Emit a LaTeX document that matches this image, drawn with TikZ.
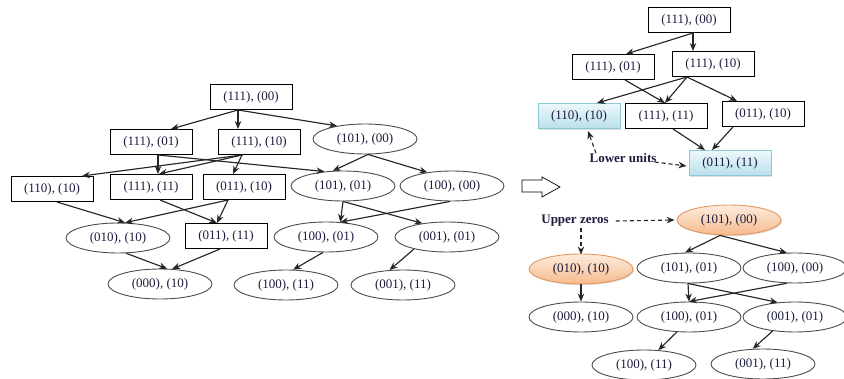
\documentclass[tikz,border=0pt]{standalone}
\usepackage{fontspec}
\setmainfont{Liberation Serif}
\usetikzlibrary{shapes.geometric,arrows.meta,shadows}
\definecolor{txt}{RGB}{28,28,62}
\definecolor{blueT}{RGB}{236,248,251}
\definecolor{blueB}{RGB}{186,224,234}
\definecolor{blueD}{RGB}{140,200,218}
\definecolor{orT}{RGB}{253,236,222}
\definecolor{orB}{RGB}{246,186,140}
\definecolor{orD}{RGB}{228,150,95}
\tikzset{
  lbl/.style={font=\fontsize{13}{15}\selectfont, text=txt},
  bx/.style={lbl, draw=black, line width=1pt, rectangle, minimum width=82pt, minimum height=25pt, inner sep=0pt},
  el/.style={lbl, draw=black!70, line width=0.9pt, ellipse, minimum width=104pt, minimum height=30pt, inner sep=0pt},
  bluebx/.style={bx, draw=blueD, top color=blueT, bottom color=blueB, drop shadow={opacity=0.25, shadow xshift=1.2pt, shadow yshift=-1.2pt}},
  orel/.style={el, draw=orD, top color=orT, bottom color=orB, drop shadow={opacity=0.25, shadow xshift=1.2pt, shadow yshift=-1.2pt}},
  note/.style={font=\bfseries\fontsize{13}{15}\selectfont, text=txt, inner sep=1pt},
  ed/.style={-{Stealth[length=8pt,width=6.5pt]}, line width=1.15pt, black!85},
  dd/.style={-{Stealth[length=8pt,width=6.5pt]}, line width=1.1pt, black!85, dash pattern=on 4pt off 3pt},
}
\begin{document}
\begin{tikzpicture}[x=1pt,y=-1pt]
\useasboundingbox (0,0) rectangle (844,379);
% ---------- left graph ----------
\node[bx] (a00) at (251,97) {(111), (00)};
\node[bx] (a01) at (151,142) {(111), (01)};
\node[bx] (a10) at (259,142) {(111), (10)};
\node[el] (b00) at (365,139) {(101), (00)};
\node[bx] (c10) at (52,189) {(110), (10)};
\node[bx] (a11) at (151,187) {(111), (11)};
\node[bx] (d10) at (244,187) {(011), (10)};
\node[el] (b01) at (343,186) {(101), (01)};
\node[el] (e00) at (452,186) {(100), (00)};
\node[el] (f10) at (118,238) {(010), (10)};
\node[bx] (d11) at (226,236) {(011), (11)};
\node[el] (e01) at (326,237) {(100), (01)};
\node[el] (g01) at (447,237) {(001), (01)};
\node[el] (h10) at (160,284) {(000), (10)};
\node[el] (e11) at (286,285) {(100), (11)};
\node[el] (g11) at (403,285) {(001), (11)};

\draw[ed] ([xshift=-13pt]a00.south) -- ([xshift=20pt]a01.north);
\draw[ed] ([xshift=-13pt]a00.south) -- ([xshift=-21pt]a10.north);
\draw[ed] ([xshift=-13pt]a00.south) -- (b00.155);
\draw[ed] ([xshift=7pt]a01.south) -- ([xshift=7pt]a11.north);
\draw[ed] ([xshift=7pt]a01.south) -- (b01.142);
\draw[ed] ([xshift=-17pt]a10.south) -- ([xshift=30pt]c10.north);
\draw[ed] ([xshift=-17pt]a10.south) -- ([xshift=8pt]a11.north);
\draw[ed] ([xshift=-17pt]a10.south) -- ([xshift=-11pt]d10.north);
\draw[ed] ([xshift=3pt]b00.south) -- (b01.124);
\draw[ed] ([xshift=3pt]b00.south) -- (e00.151);
\draw[ed] ([xshift=5pt]c10.south) -- (f10.65);
\draw[ed] ([xshift=9pt]a11.south) -- ([xshift=-9pt]d11.north);
\draw[ed] ([xshift=-16pt]d10.south) -- (f10.65);
\draw[ed] ([xshift=-16pt]d10.south) -- ([xshift=-9pt]d11.north);
\draw[ed] (b01.south) -- (e01.46);
\draw[ed] (b01.south) -- (g01.151);
\draw[ed] ([xshift=-2pt]e00.south) -- (e01.46);
\draw[ed] (f10.-62) -- (h10.65);
\draw[ed] ([xshift=-6pt]d11.south) -- (h10.51);
\draw[ed] ([xshift=-3pt]e01.south) -- (e11.65);
\draw[ed] (g01.200) -- (g11.132);

% ---------- hollow arrow ----------
\draw[line width=0.7pt, fill=white] (522,180) -- (542,180) -- (542,177) -- (560,187) -- (542,197) -- (542,192) -- (522,192) -- cycle;

% ---------- right top ----------
\node[bx] (r00) at (689,20) {(111), (00)};
\node[bx] (r01) at (613,67) {(111), (01)};
\node[bx] (r10) at (713,64) {(111), (10)};
\node[bluebx] (s10) at (579,116) {(110), (10)};
\node[bx] (r11) at (666,116) {(111), (11)};
\node[bx] (t10) at (763,114) {(011), (10)};
\node[bluebx] (t11) at (730,163) {(011), (11)};
\node[note] (lu) at (623,158) {Lower units};

\draw[ed] ([xshift=4pt]r00.south) -- ([xshift=13pt]r01.north);
\draw[ed] ([xshift=4pt]r00.south) -- ([xshift=-20pt]r10.north);
\draw[ed] ([xshift=-26pt]r10.south) -- ([xshift=18pt]s10.north);
\draw[ed] ([xshift=-26pt]r10.south) -- ([xshift=-1pt]r11.north);
\draw[ed] ([xshift=-26pt]r10.south) -- ([xshift=-26pt]t10.north);
\draw[ed] ([xshift=12pt]r01.south) -- ([xshift=-1pt]r11.north);
\draw[ed] ([xshift=7pt]r11.south) -- ([xshift=-25pt]t11.north);
\draw[ed] ([xshift=-30pt]t10.south) -- ([xshift=-18pt]t11.north);
\draw[dd] ([xshift=-27pt,yshift=-1pt]lu.north) -- ([xshift=9pt,yshift=-2pt]s10.south);
\draw[dd] ([xshift=-3pt,yshift=-4pt]lu.east) -- ([xshift=-2pt,yshift=-3pt]t11.west);

% ---------- right bottom ----------
\node[orel] (u00) at (729,220) {(101), (00)};
\node[note] (uz) at (575,221) {Upper zeros};
\node[orel] (v10) at (581,269) {(010), (10)};
\node[el] (u01) at (689,268) {(101), (01)};
\node[el] (w00) at (795,268) {(100), (00)};
\node[el] (x10) at (581,317) {(000), (10)};
\node[el] (w01) at (689,317) {(100), (01)};
\node[el] (y01) at (795,317) {(001), (01)};
\node[el] (w11) at (644,365) {(100), (11)};
\node[el] (y11) at (763,364) {(001), (11)};

\draw[dd] ([xshift=6pt]uz.east) -- ([xshift=-2pt]u00.west);
\draw[dd] ([xshift=6pt]uz.south) -- ([xshift=0pt,yshift=-1pt]v10.north);
\draw[ed] ([xshift=-9pt]u00.south) -- ([xshift=-4pt]u01.north);
\draw[ed] ([xshift=-9pt]u00.south) -- (w00.118);
\draw[ed] (v10.south) -- (x10.north);
\draw[ed] ([xshift=-1pt]u01.south) -- (w01.north);
\draw[ed] ([xshift=-1pt]u01.south) -- (y01.140);
\draw[ed] (w00.242) -- (w01.north);
\draw[ed] (w01.231) -- (w11.46);
\draw[ed] (y01.212) -- (y11.124);
\end{tikzpicture}
\end{document}
